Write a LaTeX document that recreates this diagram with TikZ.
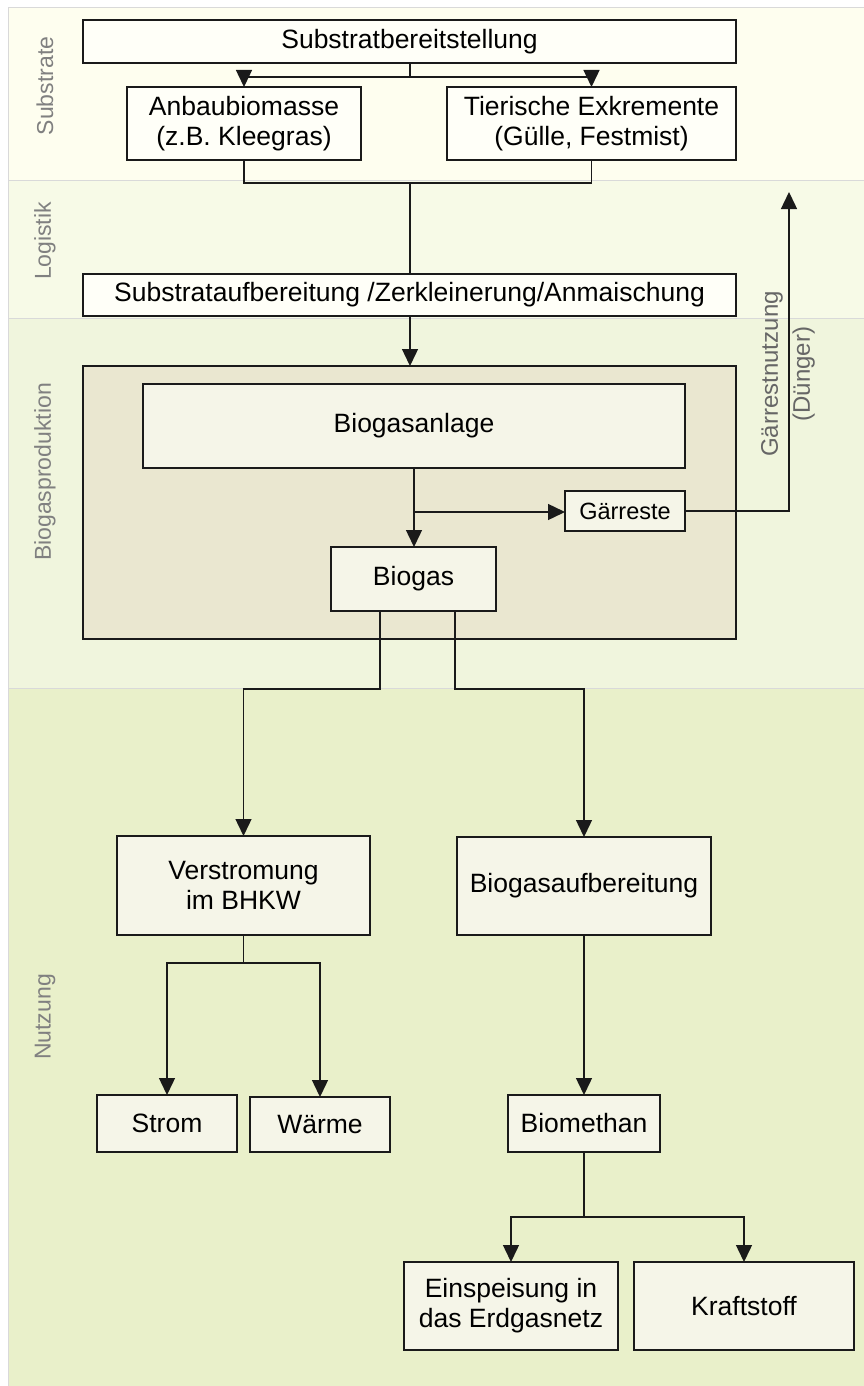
\documentclass[tikz,border=0pt]{standalone}
\usepackage{fontspec}
\setmainfont{Liberation Sans}
\usetikzlibrary{arrows.meta}
\definecolor{bandA}{HTML}{FEFEEF}
\definecolor{bandB}{HTML}{F7FAE7}
\definecolor{bandC}{HTML}{F0F5DD}
\definecolor{bandD}{HTML}{E9F0CA}
\definecolor{outerfill}{HTML}{EAE7D0}
\definecolor{innerfill}{HTML}{F5F5E8}
\definecolor{topfill}{HTML}{FFFFF8}
\definecolor{linecol}{HTML}{1A1A1A}
\definecolor{sepcol}{HTML}{D9D9D9}
\definecolor{labelcol}{HTML}{808080}
\definecolor{labelcolB}{HTML}{666666}
\tikzset{
  box/.style={draw=linecol, line width=1.2pt, inner sep=0pt, outer sep=0pt, align=center,
    font=\fontsize{26.5}{30}\selectfont, text=black},
  topbox/.style={box, fill=topfill},
  inbox/.style={box, fill=innerfill},
  conn/.style={draw=linecol, line width=1.4pt},
  arr/.style={conn, -{Triangle[length=17pt,width=16pt]}},
  bandlabel/.style={rotate=90, text=labelcol, font=\fontsize{23}{27}\selectfont, inner sep=0pt},
}
\begin{document}
\begin{tikzpicture}[x=1pt,y=-1pt]
\useasboundingbox (0,0) rectangle (864,1386);
\fill[white] (0,0) rectangle (864,1386);
% bands
\fill[bandA] (9,8) rectangle (864,180);
\fill[bandB] (9,180) rectangle (864,318);
\fill[bandC] (9,318) rectangle (864,688);
\fill[bandD] (9,688) rectangle (864,1386);
\draw[sepcol, line width=1pt] (864,8) -- (8.5,8) -- (8.5,1386);
\draw[sepcol, line width=1pt] (9,180) -- (864,180);
\draw[sepcol, line width=1pt] (9,318) -- (864,318);
\draw[sepcol, line width=1pt] (9,688) -- (864,688);
% band labels
\node[bandlabel] (lsub) at (45,86) {Substrate};
\node[bandlabel] (llog) at (45,241) {Logistik};
\node[bandlabel] (lbio) at (45,472) {Biogasproduktion};
\node[bandlabel] (lnut) at (45,1017) {Nutzung};
% outer box
\node[draw=linecol, line width=1.2pt, fill=outerfill, minimum width=653pt, minimum height=273pt, inner sep=0pt, outer sep=0pt] (outer) at (409.5,502.5) {};
% boxes
\node[topbox, minimum width=653pt, minimum height=43pt] (sb) at (409.5,41.5) {Substratbereitstellung};
\node[topbox, minimum width=234pt, minimum height=73pt] (anbau) at (244,123.5) {Anbaubiomasse\\(z.B. Kleegras)};
\node[topbox, minimum width=289pt, minimum height=73pt] (tier) at (591.5,123.5) {Tierische Exkremente\\(Gülle, Festmist)};
\node[topbox, minimum width=653pt, minimum height=42pt] (sa) at (409.5,295) {Substrataufbereitung /Zerkleinerung/Anmaischung};
\node[inbox, minimum width=542pt, minimum height=84pt] (bga) at (414,426) {Biogasanlage};
\node[inbox, minimum width=120pt, minimum height=40pt, font=\fontsize{23.5}{27}\selectfont] (gr) at (625,511) {Gärreste};
\node[inbox, minimum width=165pt, minimum height=64pt] (bg) at (413.5,579) {Biogas};
\node[inbox, minimum width=253pt, minimum height=99pt] (vs) at (243.5,885.5) {Verstromung\\im BHKW};
\node[inbox, minimum width=254pt, minimum height=98pt] (ba) at (584,886) {Biogasaufbereitung};
\node[inbox, minimum width=140pt, minimum height=57pt] (strom) at (167,1123.5) {Strom};
\node[inbox, minimum width=140pt, minimum height=55pt] (waerme) at (320,1124.5) {Wärme};
\node[inbox, minimum width=152pt, minimum height=57pt] (bm) at (584,1123.5) {Biomethan};
\node[inbox, minimum width=214pt, minimum height=88pt] (ein) at (511,1306) {Einspeisung in\\das Erdgasnetz};
\node[inbox, minimum width=220pt, minimum height=88pt] (kraft) at (744,1306) {Kraftstoff};
% connectors top
\coordinate (j1) at (410,77);
\draw[conn] (sb.south -| j1) -- (j1);
\draw[arr] (j1) -| (anbau.north);
\draw[arr] (j1) -| (tier.north);
\coordinate (j2) at (410,183);
\draw[conn] (anbau.south) |- (j2);
\draw[conn] (tier.south) |- (j2);
\draw[conn] (j2) -- (sa.north -| j2);
\draw[arr] (sa.south -| j2) -- (outer.north -| j2);
% biogas
\coordinate (j3) at (414,512);
\draw[conn] (bga.south -| j3) -- (j3);
\draw[arr] (j3) -- (bg.north -| j3);
\draw[arr] (j3) -- (gr.west |- j3);
\coordinate (gn) at (789,192);
\draw[arr] (gr.east) -| (gn);
\node[rotate=90, align=center, text=labelcolB, font=\fontsize{24}{32}\selectfont, inner sep=0pt] (glab) at (788,374) {Gärrestnutzung\\(Dünger)};
% nutzung
\coordinate (b1) at (380,689);
\coordinate (b2) at (455,689);
\draw[arr] (bg.south -| b1) -- (b1) -| (vs.north);
\draw[arr] (bg.south -| b2) -- (b2) -| (ba.north);
\coordinate (j4) at (243.5,963);
\draw[conn] (vs.south) -- (j4);
\draw[arr] (j4) -| (strom.north);
\draw[arr] (j4) -| (waerme.north);
\draw[arr] (ba.south) -- (bm.north);
\coordinate (j5) at (584,1217);
\draw[conn] (bm.south) -- (j5);
\draw[arr] (j5) -| (ein.north);
\draw[arr] (j5) -| (kraft.north);
\end{tikzpicture}
\end{document}
